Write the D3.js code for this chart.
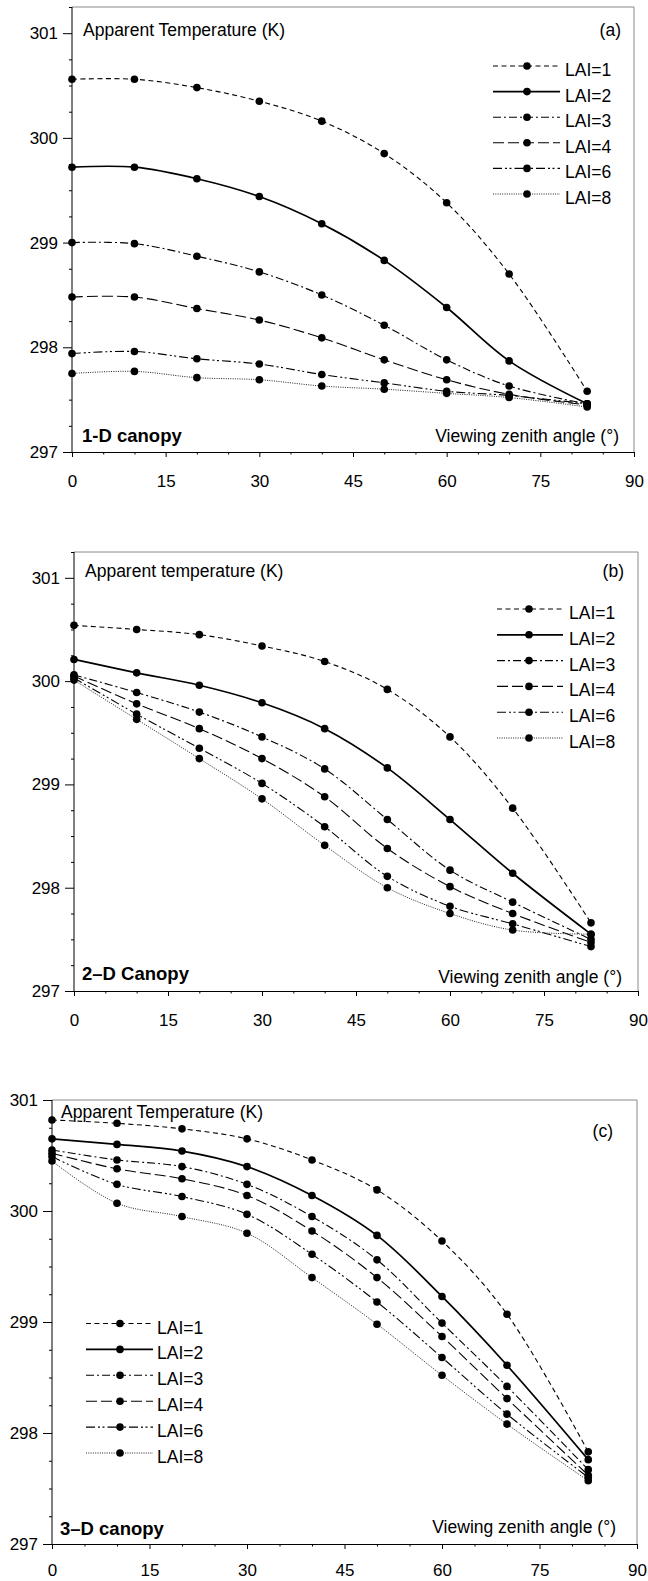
<!DOCTYPE html>
<html><head><meta charset="utf-8">
<script src="https://cdn.jsdelivr.net/npm/d3@7"></script>
<style>body{margin:0;background:#fff} svg{display:block}</style>
</head><body>
<svg id="chart" width="648" height="1581"></svg>
<script>
// ---------- data ----------
const angles = [0, 10, 20, 30, 40, 50, 60, 70, 82.5];
const laiLabels = ["LAI=1", "LAI=2", "LAI=3", "LAI=4", "LAI=6", "LAI=8"];
const yTickValues = [297, 298, 299, 300, 301];
const xTickValues = [0, 15, 30, 45, 60, 75, 90];

// (a) 1-D canopy
const a_LAI1 = [300.56, 300.56, 300.48, 300.35, 300.16, 299.85, 299.38, 298.70, 297.58];
const a_LAI2 = [299.72, 299.72, 299.61, 299.44, 299.18, 298.83, 298.38, 297.87, 297.46];
const a_LAI3 = [299.00, 298.99, 298.87, 298.72, 298.50, 298.21, 297.88, 297.63, 297.46];
const a_LAI4 = [298.48, 298.48, 298.37, 298.26, 298.09, 297.88, 297.69, 297.55, 297.45];
const a_LAI6 = [297.94, 297.96, 297.89, 297.84, 297.74, 297.66, 297.58, 297.54, 297.46];
const a_LAI8 = [297.75, 297.77, 297.71, 297.69, 297.63, 297.60, 297.56, 297.52, 297.43];

// (b) 2-D canopy
const b_LAI1 = [300.54, 300.50, 300.45, 300.34, 300.19, 299.92, 299.46, 298.77, 297.66];
const b_LAI2 = [300.21, 300.08, 299.96, 299.79, 299.54, 299.16, 298.66, 298.14, 297.55];
const b_LAI3 = [300.06, 299.89, 299.70, 299.46, 299.15, 298.66, 298.17, 297.86, 297.50];
const b_LAI4 = [300.05, 299.78, 299.54, 299.25, 298.88, 298.38, 298.01, 297.75, 297.47];
const b_LAI6 = [300.03, 299.68, 299.35, 299.01, 298.59, 298.11, 297.82, 297.65, 297.43];
const b_LAI8 = [300.01, 299.63, 299.25, 298.86, 298.41, 298.00, 297.75, 297.59, 297.55];

// (c) 3-D canopy
const c_LAI1 = [300.82, 300.79, 300.74, 300.65, 300.46, 300.19, 299.73, 299.07, 297.83];
const c_LAI2 = [300.65, 300.60, 300.54, 300.40, 300.14, 299.78, 299.23, 298.61, 297.76];
const c_LAI3 = [300.55, 300.46, 300.40, 300.24, 299.95, 299.56, 298.99, 298.42, 297.67];
const c_LAI4 = [300.52, 300.38, 300.29, 300.14, 299.82, 299.40, 298.87, 298.31, 297.62];
const c_LAI6 = [300.49, 300.24, 300.13, 299.97, 299.61, 299.18, 298.68, 298.17, 297.60];
const c_LAI8 = [300.45, 300.07, 299.95, 299.80, 299.40, 298.98, 298.52, 298.08, 297.57];

// ---------- styles ----------
const lineStyles = [
  {dash: "5,3.5", width: 1.1, color: "#000"},
  {dash: null, width: 1.7, color: "#000"},
  {dash: "8,3,2,3", width: 1.1, color: "#000"},
  {dash: "11,4", width: 1.1, color: "#000"},
  {dash: "9,3,2,2.5,2,3", width: 1.1, color: "#000"},
  {dash: "1,1.3", width: 1.0, color: "#222"}
];
const FONT = "'Liberation Sans', Arial, Helvetica, sans-serif";

const panels = [
  {series: [a_LAI1, a_LAI2, a_LAI3, a_LAI4, a_LAI6, a_LAI8],
   left: 72, right: 634, top: 7, bottom: 452, yMax: 301.25, xPad: 18,
   title: "Apparent Temperature (K)", titleX: 83, titleY: 36,
   tag: "(a)", tagX: 621, tagY: 36,
   canopy: "1-D canopy", canopyX: 82, canopyY: 442,
   xlab: "Viewing zenith angle (°)", xlabX: 619, xlabY: 442,
   leg: {x1: 493, x2: 560, xm: 527, xt: 565, y0: 66, dy: 25.6}},
  {series: [b_LAI1, b_LAI2, b_LAI3, b_LAI4, b_LAI6, b_LAI8],
   left: 74, right: 638, top: 552, bottom: 991, yMax: 301.25, xPad: 18,
   title: "Apparent temperature (K)", titleX: 85, titleY: 577,
   tag: "(b)", tagX: 624, tagY: 577,
   canopy: "2–D Canopy", canopyX: 82, canopyY: 980,
   xlab: "Viewing zenith angle (°)", xlabX: 622, xlabY: 983,
   leg: {x1: 497, x2: 563, xm: 529, xt: 569, y0: 609, dy: 25.8}},
  {series: [c_LAI1, c_LAI2, c_LAI3, c_LAI4, c_LAI6, c_LAI8],
   left: 52, right: 637, top: 1100, bottom: 1544, yMax: 301, xPad: 15,
   title: "Apparent Temperature (K)", titleX: 61, titleY: 1118,
   tag: "(c)", tagX: 613, tagY: 1137,
   canopy: "3–D canopy", canopyX: 60, canopyY: 1535,
   xlab: "Viewing zenith angle (°)", xlabX: 616, xlabY: 1533,
   leg: {x1: 86, x2: 153, xm: 120, xt: 157, y0: 1323.5, dy: 25.9}}
];

const svg = d3.select("#chart");

panels.forEach(p => {
  const x = d3.scaleLinear().domain([0, 90]).range([p.left, p.right]);
  const y = d3.scaleLinear().domain([297, p.yMax]).range([p.bottom, p.top]);
  const g = svg.append("g");

  // frame (top/right in grey)
  g.append("path")
    .attr("d", `M${p.left},${p.top}H${p.right}V${p.bottom}`)
    .attr("fill", "none").attr("stroke", "#8a8a8a").attr("stroke-width", 1);

  // minor ticks
  const minorY = d3.range(297, p.yMax + 1e-6, 0.25).filter(v => Math.abs(v - Math.round(v)) > 1e-6);
  g.append("g").attr("transform", `translate(${p.left},0)`)
    .call(d3.axisLeft(y).tickValues(minorY).tickSize(3).tickSizeOuter(0).tickFormat(""))
    .call(s => s.select(".domain").remove());
  const minorX = d3.range(0, 91, 5).filter(v => v % 15 !== 0);
  g.append("g").attr("transform", `translate(0,${p.bottom})`)
    .call(d3.axisBottom(x).tickValues(minorX).tickSize(2.5).tickSizeOuter(0).tickFormat(""))
    .call(s => s.select(".domain").remove());

  // major axes
  const ya = g.append("g").attr("transform", `translate(${p.left},0)`)
    .call(d3.axisLeft(y).tickValues(yTickValues).tickSize(9).tickSizeOuter(0).tickPadding(5).tickFormat(d3.format("d")));
  ya.select(".domain").attr("d", `M0,${p.bottom}V${p.top}`);
  const xa = g.append("g").attr("transform", `translate(0,${p.bottom})`)
    .call(d3.axisBottom(x).tickValues(xTickValues).tickSize(5).tickSizeOuter(0).tickPadding(p.xPad).tickFormat(d3.format("d")));
  [ya, xa].forEach(a => {
    a.selectAll("text").attr("font-family", FONT).attr("font-size", 17).attr("fill", "#000");
    a.selectAll("line,path").attr("stroke", "#000");
  });

  // series
  const line = d3.line().x((d, i) => x(angles[i])).y(d => y(d)).curve(d3.curveCatmullRom.alpha(0.5));
  p.series.forEach((vals, k) => {
    const st = lineStyles[k];
    g.append("path").datum(vals)
      .attr("d", line).attr("fill", "none")
      .attr("stroke", st.color).attr("stroke-width", st.width)
      .attr("stroke-dasharray", st.dash);
  });
  p.series.forEach((vals) => {
    g.append("g").selectAll("circle").data(vals).join("circle")
      .attr("cx", (d, i) => x(angles[i])).attr("cy", d => y(d))
      .attr("r", 3.8).attr("fill", "#000");
  });

  // legend
  const L = p.leg;
  laiLabels.forEach((lab, k) => {
    const st = lineStyles[k];
    const yy = L.y0 + k * L.dy;
    g.append("line").attr("x1", L.x1).attr("x2", L.x2).attr("y1", yy).attr("y2", yy)
      .attr("stroke", st.color).attr("stroke-width", st.width)
      .attr("stroke-dasharray", st.dash);
    g.append("circle").attr("cx", L.xm).attr("cy", yy).attr("r", 3.8).attr("fill", "#000");
    g.append("text").attr("x", L.xt).attr("y", yy + 10).text(lab)
      .attr("font-family", FONT).attr("font-size", 17.5).attr("fill", "#000");
  });

  // texts
  const txt = (s, xx, yy, anchor, size, weight) => g.append("text")
    .attr("x", xx).attr("y", yy).attr("text-anchor", anchor)
    .attr("font-family", FONT).attr("font-size", size).attr("font-weight", weight)
    .attr("fill", "#000").text(s);
  txt(p.title, p.titleX, p.titleY, "start", 17.5, "normal");
  txt(p.tag, p.tagX, p.tagY, "end", 17.5, "normal");
  txt(p.canopy, p.canopyX, p.canopyY, "start", 18.5, "bold");
  txt(p.xlab, p.xlabX, p.xlabY, "end", 17.5, "normal");
});
</script>
</body></html>
